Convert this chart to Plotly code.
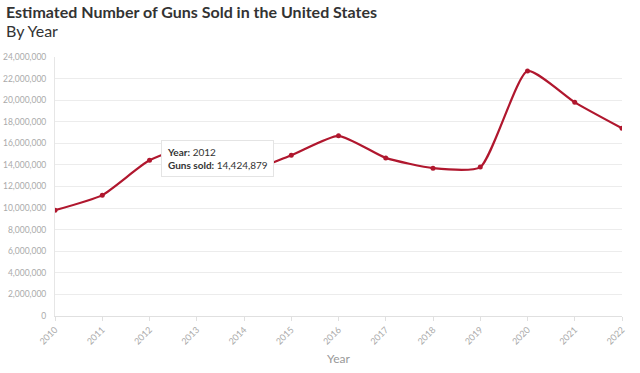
import plotly.graph_objects as go

years = [2010, 2011, 2012, 2013, 2014, 2015, 2016, 2017, 2018, 2019, 2020, 2021, 2022]
guns_sold = [9800000, 11200000, 14424879, 15800000, 13400000, 14900000, 16700000,
             14650000, 13700000, 13800000, 22700000, 19800000, 17400000]
y_ticks = list(range(0, 24000001, 2000000))

RED = "#b0172e"
FONT = "Lato"

fig = go.Figure()
fig.add_trace(go.Scatter(
    x=years, y=guns_sold, mode="lines+markers",
    line=dict(color=RED, width=2.2, shape="spline", smoothing=0.55),
    marker=dict(color=RED, size=5),
    hoverinfo="skip",
))

# tooltip-like box for 2012
fig.add_annotation(
    x=2012, y=guns_sold[2], xref="x", yref="y",
    text="<b>Year:</b> 2012<br><b>Guns sold:</b> 14,424,879",
    showarrow=False, xanchor="left", yanchor="middle", align="left",
    xshift=11, yshift=2,
    font=dict(family=FONT, size=10, color="#333"),
    bgcolor="white", bordercolor="#e4e4e4", borderwidth=1, borderpad=5,
)

W, H = 640, 373
L, R, T, B = 55, 18, 57, 57
PW, PH = W - L - R, H - T - B

fig.update_layout(
    width=W, height=H,
    margin=dict(l=L, r=R, t=T, b=B),
    paper_bgcolor="white", plot_bgcolor="white",
    showlegend=False,
    font=dict(family=FONT, color="#999"),
    title=dict(
        text="<b>Estimated Number of Guns Sold in the United States</b>",
        x=6 / W, xref="container", xanchor="left",
        y=1 - 12 / H, yref="container", yanchor="middle",
        font=dict(family=FONT, size=16, color="#333"),
    ),
)
fig.add_annotation(
    text="By Year", xref="paper", yref="paper",
    x=(4 - L) / PW, y=(316 - 31) / PH, xanchor="left", yanchor="middle",
    showarrow=False, font=dict(family=FONT, size=16, color="#333"),
)
fig.add_annotation(
    text="Year", xref="paper", yref="paper",
    x=0.5, y=-(358 - 316) / PH, xanchor="center", yanchor="middle",
    showarrow=False, font=dict(family=FONT, size=12, color="#999"),
)

fig.update_xaxes(
    range=[2010, 2022], tickmode="array", tickvals=years,
    ticktext=[str(y) for y in years], tickangle=-45,
    tickfont=dict(size=9, color="#aaa"),
    showgrid=False, zeroline=False, automargin=False,
    showline=True, linecolor="#e0e0e0", linewidth=1,
    ticks="outside", ticklen=4, tickcolor="#e0e0e0",
)
fig.update_yaxes(
    range=[0, 24000000], tickmode="array", tickvals=y_ticks,
    tickformat=",d", tickfont=dict(size=8.5, color="#aaa"),
    showgrid=True, gridcolor="#ececec", gridwidth=1, automargin=False,
    zeroline=False, showline=True, linecolor="#e6e6e6", linewidth=1,
    ticks="", ticklabelstandoff=6,
)

fig.write_html("out.html", config={"displayModeBar": False},
               post_script="document.body.style.margin='0';")
